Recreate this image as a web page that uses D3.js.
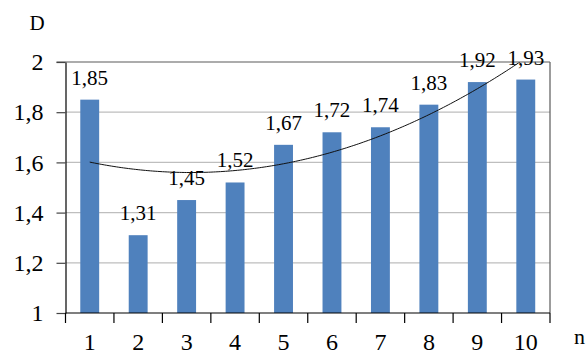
<!DOCTYPE html>
<html>
<head>
<meta charset="utf-8">
<script src="https://cdn.jsdelivr.net/npm/d3@7"></script>
<style>
  html, body { margin: 0; padding: 0; background: #fff; font-family: 'Liberation Serif', 'DejaVu Serif', serif; }
  svg { display: block; }
</style>
</head>
<body>
<svg id="chart" width="586" height="356"></svg>
<script>
// Series
const categories = [1, 2, 3, 4, 5, 6, 7, 8, 9, 10];
const values = [1.85, 1.31, 1.45, 1.52, 1.67, 1.72, 1.74, 1.83, 1.92, 1.93];
const yTicks = [1, 1.2, 1.4, 1.6, 1.8, 2];

const FONT = "'Liberation Serif', 'DejaVu Serif', serif";
const W = 586, H = 356;
const m = { left: 65.5, right: 36, top: 62, bottom: 43 };
const svg = d3.select("#chart");

const x = d3.scaleBand().domain(categories).range([m.left, W - m.right]).paddingInner(0).paddingOuter(0);
const y = d3.scaleLinear().domain([1, 2]).range([H - m.bottom, m.top]);
const fmt = v => d3.format(".2~f")(v).replace(".", ",");

// gridlines
svg.append("g").selectAll("line").data(yTicks.filter(t => t > 1 && t < 2)).join("line")
  .attr("x1", m.left).attr("x2", W - m.right)
  .attr("y1", d => y(d)).attr("y2", d => y(d))
  .attr("stroke", "#BEBEBE").attr("stroke-width", 1.2);

// bars
const barW = x.bandwidth() * 0.39;
svg.append("g").selectAll("rect").data(values).join("rect")
  .attr("x", (d, i) => x(categories[i]) + x.bandwidth() / 2 - barW / 2)
  .attr("width", barW)
  .attr("y", d => y(d))
  .attr("height", d => y(1) - y(d))
  .attr("fill", "#4F81BD");

// second-order least-squares trend of the series
function polyFit(xs, ys) {
  const n = xs.length;
  const mx = d3.mean(xs);
  const u = xs.map(v => v - mx);
  const S2 = d3.sum(u, v => v * v), S3 = d3.sum(u, v => v ** 3), S4 = d3.sum(u, v => v ** 4);
  const Sy = d3.sum(ys), Suy = d3.sum(u, (v, i) => v * ys[i]), Su2y = d3.sum(u, (v, i) => v * v * ys[i]);
  const A = [[n, 0, S2], [0, S2, S3], [S2, S3, S4]];
  const B = [Sy, Suy, Su2y];
  const det = M => M[0][0]*(M[1][1]*M[2][2]-M[1][2]*M[2][1]) - M[0][1]*(M[1][0]*M[2][2]-M[1][2]*M[2][0]) + M[0][2]*(M[1][0]*M[2][1]-M[1][1]*M[2][0]);
  const D = det(A);
  const col = k => A.map((r, i) => r.map((v, j) => j === k ? B[i] : v));
  const a = det(col(0)) / D, b = det(col(1)) / D, c = det(col(2)) / D;
  return t => a + b * (t - mx) + c * (t - mx) ** 2;
}
const trend = polyFit(categories, values);
const cx = v => x(1) + x.bandwidth() / 2 + (v - 1) * x.step();
const samples = d3.range(1, 10.001, 0.05).map(t => [t, trend(t)]);

svg.append("clipPath").attr("id", "plotclip").append("rect")
  .attr("x", m.left).attr("y", m.top).attr("width", W - m.left - m.right).attr("height", H - m.top - m.bottom);
svg.append("path")
  .datum(samples)
  .attr("clip-path", "url(#plotclip)")
  .attr("fill", "none").attr("stroke", "#111").attr("stroke-width", 1)
  .attr("d", d3.line().x(d => cx(d[0])).y(d => y(d[1])).curve(d3.curveMonotoneX));

// plot border (top and right)
svg.append("line").attr("x1", m.left - 9).attr("x2", W - m.right).attr("y1", y(2)).attr("y2", y(2))
  .attr("stroke", "#5A5A5A").attr("stroke-width", 1.2);
svg.append("line").attr("x1", W - m.right).attr("x2", W - m.right).attr("y1", y(2)).attr("y2", y(1))
  .attr("stroke", "#5A5A5A").attr("stroke-width", 1.2);

// y axis
const yAxis = svg.append("g").attr("transform", `translate(${m.left},0)`)
  .call(d3.axisLeft(y).tickValues(yTicks).tickFormat(fmt).tickSize(9).tickSizeOuter(0));
yAxis.attr("font-family", null).attr("font-size", null);
yAxis.select(".domain").attr("stroke", "#000").attr("stroke-width", 1.2);
yAxis.selectAll(".tick line").attr("stroke", "#444").attr("stroke-width", 1.2);
yAxis.selectAll(".tick text").attr("x", -22)
  .style("font-family", FONT).style("font-size", "24px").attr("fill", "#000");

// x axis: ticks at category boundaries
const xg = svg.append("g");
xg.append("line").attr("x1", m.left).attr("x2", W - m.right).attr("y1", y(1)).attr("y2", y(1))
  .attr("stroke", "#000").attr("stroke-width", 1.2);
xg.selectAll("line.tk").data(d3.range(categories.length + 1)).join("line").attr("class", "tk")
  .attr("x1", i => m.left + i * x.step()).attr("x2", i => m.left + i * x.step())
  .attr("y1", y(1)).attr("y2", y(1) + 10)
  .attr("stroke", "#000").attr("stroke-width", 1.2);
xg.selectAll("text").data(categories).join("text")
  .attr("x", d => x(d) + x.bandwidth() / 2).attr("y", 350)
  .attr("text-anchor", "middle")
  .style("font-family", FONT).style("font-size", "24px").text(d => d);

// value labels
svg.append("g").selectAll("text").data(values).join("text")
  .attr("x", (d, i) => x(categories[i]) + x.bandwidth() / 2)
  .attr("y", d => y(d) - 15)
  .attr("text-anchor", "middle")
  .style("font-family", FONT).style("font-size", "21px").text(d => fmt(d));

// axis titles
svg.append("text").attr("x", 37).attr("y", 30).attr("text-anchor", "middle")
  .style("font-family", FONT).style("font-size", "21px").text("D");
svg.append("text").attr("x", 574).attr("y", 344)
  .style("font-family", FONT).style("font-size", "22px").text("n");
</script>
</body>
</html>
